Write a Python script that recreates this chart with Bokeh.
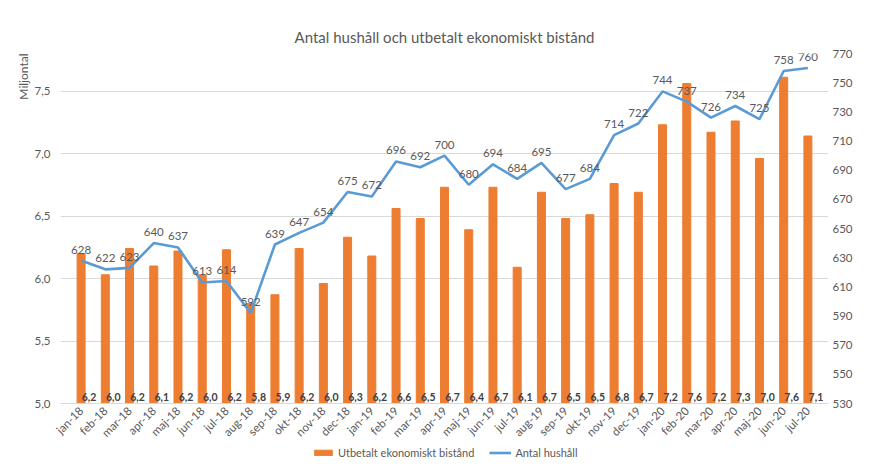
from bokeh.plotting import figure
from bokeh.layouts import column
from bokeh.core.properties import value
from bokeh.models import (Range1d, LinearAxis, FixedTicker, CustomJSTickFormatter,
                          LabelSet, Title, ColumnDataSource, Legend, LegendItem, FactorRange)
from bokeh.embed import file_html
from bokeh.resources import INLINE
import math

months = ["jan-18", "feb-18", "mar-18", "apr-18", "maj-18", "jun-18", "jul-18", "aug-18",
          "sep-18", "okt-18", "nov-18", "dec-18", "jan-19", "feb-19", "mar-19", "apr-19",
          "maj-19", "jun-19", "jul-19", "aug-19", "sep-19", "okt-19", "nov-19", "dec-19",
          "jan-20", "feb-20", "mar-20", "apr-20", "maj-20", "jun-20", "jul-20"]

utbetalt = [6.20, 6.03, 6.24, 6.10, 6.22, 6.03, 6.23, 5.80, 5.87, 6.24, 5.96, 6.33,
            6.18, 6.56, 6.48, 6.73, 6.39, 6.73, 6.09, 6.69, 6.48, 6.51, 6.76, 6.69,
            7.23, 7.56, 7.17, 7.26, 6.96, 7.61, 7.14]

hushall = [628, 622, 623, 640, 637, 613, 614, 592, 639, 647, 654, 675, 672, 696, 692, 700,
           680, 694, 684, 695, 677, 684, 714, 722, 744, 737, 726, 734, 725, 758, 760]

left_ticks = [5.0, 5.5, 6.0, 6.5, 7.0, 7.5]
right_ticks = list(range(530, 771, 20))

FONT = "Lato"
GRAY = "#595959"
ORANGE = "#ED7D31"
BLUE = "#5B9BD5"

src = ColumnDataSource(dict(
    m=months,
    u=utbetalt,
    h=hushall,
    base=[5.02] * len(months),
    ulab=[f"{v:.1f}".replace(".", ",") for v in utbetalt],
    hlab=[str(v) for v in hushall],
))

xr = FactorRange(factors=months, range_padding=0.35, range_padding_units="absolute")

p = figure(x_range=xr, y_range=Range1d(5.0, 7.8), width=855, height=446,
           output_backend="svg", toolbar_location=None,
           min_border_left=60, min_border_right=0, min_border_top=53, min_border_bottom=43)

p.title.text = "Antal hushåll och utbetalt ekonomiskt bistånd"
p.title.align = "center"
p.title.text_font = FONT
p.title.text_font_size = "15px"
p.title.text_font_style = "normal"
p.title.text_color = GRAY
p.title.standoff = 16

p.outline_line_color = None
p.xgrid.grid_line_color = None
p.ygrid.grid_line_color = "#D9D9D9"
p.ygrid.ticker = FixedTicker(ticks=left_ticks)

p.extra_y_ranges = {"hh": Range1d(530, 770)}

bars = p.vbar(x="m", top="u", bottom=5.0, width=0.33, color=ORANGE, source=src)
line = p.line(x="m", y="h", y_range_name="hh", line_color=BLUE, line_width=2.6, source=src)

# left axis
ya = p.yaxis[0]
ya.ticker = FixedTicker(ticks=left_ticks)
ya.formatter = CustomJSTickFormatter(code="return tick.toFixed(1).replace('.', ',');")
ya.axis_line_color = None
ya.major_tick_line_color = None
ya.minor_tick_line_color = None
ya.major_tick_out = 0
ya.major_tick_in = 0
ya.major_label_text_font = FONT
ya.major_label_text_font_size = "11.5px"
ya.major_label_text_color = GRAY
ya.major_label_standoff = 10

p.add_layout(Title(text="Miljontal", align="right", text_font=FONT, text_font_size="12px",
                   text_font_style="normal", text_color=GRAY, standoff=2), "left")

# right axis
ra = LinearAxis(y_range_name="hh", ticker=FixedTicker(ticks=right_ticks))
ra.axis_line_color = None
ra.major_tick_line_color = None
ra.minor_tick_line_color = None
ra.major_tick_out = 0
ra.major_tick_in = 0
ra.major_label_text_font = FONT
ra.major_label_text_font_size = "11.5px"
ra.major_label_text_color = GRAY
ra.major_label_standoff = 4
p.add_layout(ra, "right")

# x axis
xa = p.xaxis[0]
xa.major_label_orientation = math.pi / 4
xa.major_label_text_font = FONT
xa.major_label_text_font_size = "11.5px"
xa.major_label_text_color = GRAY
xa.axis_line_color = "#D9D9D9"
xa.major_tick_line_color = None
xa.minor_tick_line_color = None
xa.major_tick_out = 0
xa.major_tick_in = 0
xa.major_label_standoff = 5

# labels
bl = LabelSet(x="m", y="base", text="ulab", source=src, x_offset=8,
              text_align="center", text_baseline="bottom", text_font=value(FONT),
              text_font_size="10.5px", text_font_style="bold", text_color="#404040")
p.add_layout(bl)
hl = LabelSet(x="m", y="h", y_range_name="hh", text="hlab", source=src, y_offset=7,
              text_align="center", text_baseline="bottom", text_font=value(FONT),
              text_font_size="11.5px", text_color=GRAY)
p.add_layout(hl)

# legend strip below the chart (swatch glyphs lie outside its visible range)
lg = figure(width=855, height=14, x_range=Range1d(0, 1), y_range=Range1d(0, 1),
            output_backend="svg", toolbar_location=None,
            x_axis_type=None, y_axis_type=None,
            min_border_left=0, min_border_right=0, min_border_top=0, min_border_bottom=0)
lg.outline_line_color = None
lg.xgrid.grid_line_color = None
lg.ygrid.grid_line_color = None
lb = lg.vbar(x=[-5], top=[-5], bottom=-6, width=0.1, color=ORANGE)
ll = lg.line(x=[-5, -4], y=[-5, -5], line_color=BLUE, line_width=2.6)
legend = Legend(items=[LegendItem(label="Utbetalt ekonomiskt bistånd", renderers=[lb]),
                       LegendItem(label="Antal hushåll", renderers=[ll])],
                orientation="horizontal", border_line_color=None, background_fill_alpha=0,
                location=(252, 1),
                label_text_font=FONT, label_text_font_size="11px", label_text_color=GRAY,
                label_height=12, label_standoff=4, glyph_width=22, glyph_height=7,
                spacing=15, padding=0, margin=0)
lg.add_layout(legend)

open("out.html", "w").write(file_html(column(p, lg, spacing=0), INLINE))
